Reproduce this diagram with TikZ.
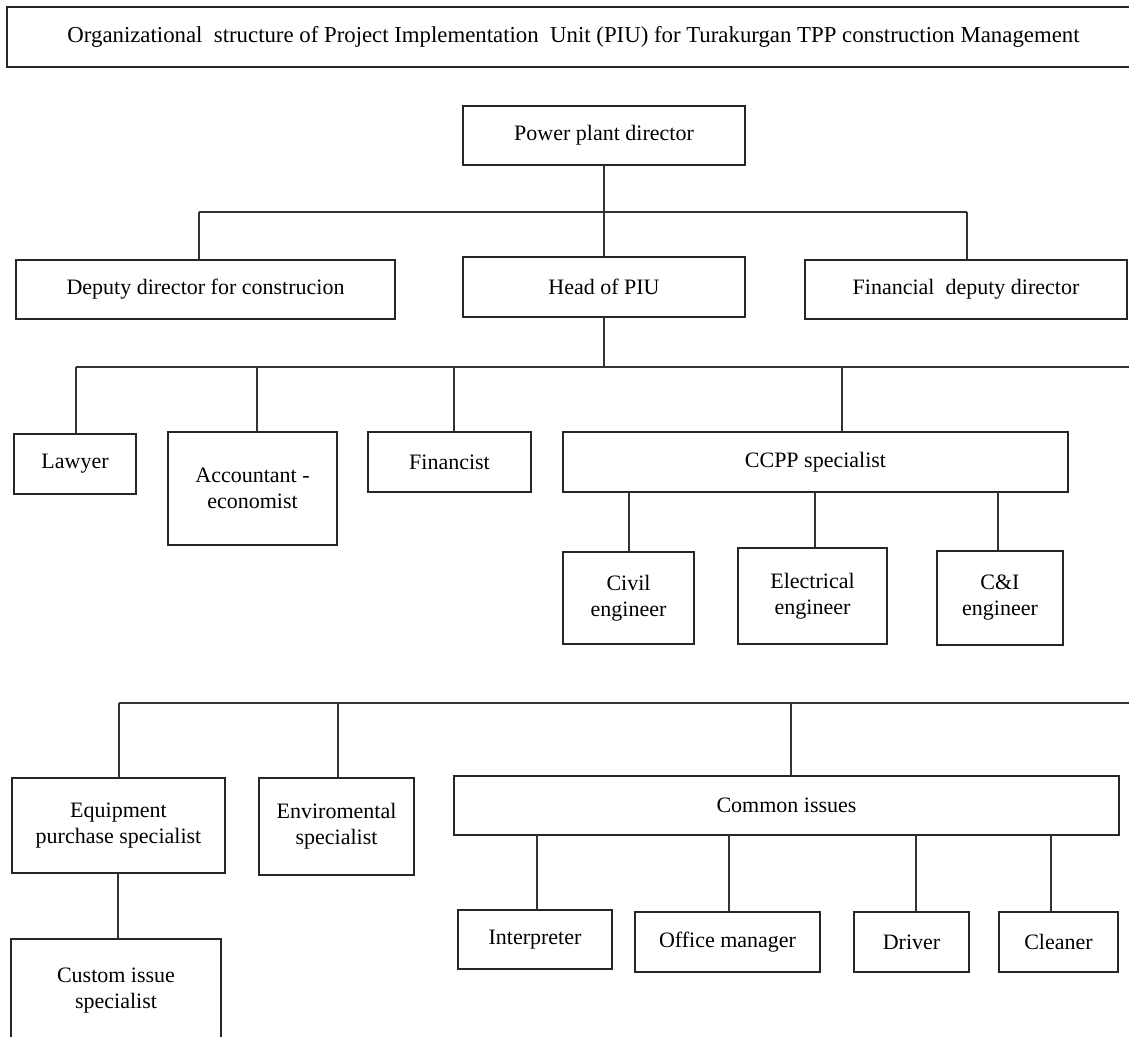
\documentclass[tikz,border=0pt]{standalone}
\usepackage{fontspec}
\setmainfont{Liberation Serif}
\begin{document}
\begin{tikzpicture}[x=1pt,y=-1pt,
  line width=1.2pt,
  every node/.style={font=\fontsize{22}{26}\selectfont},
  box/.style={draw=black!85,line width=1.3pt,inner sep=0pt,align=center,minimum width=#1},
  box/.default=100pt,
  link/.style={draw=black!80,line width=1.2pt}]
\useasboundingbox (0,0) rectangle (1129,1036);
\clip (0,0) rectangle (1129,1036);
\fill[white] (0,0) rectangle (1129,1036);

% title
\node[box=1133pt,minimum height=60pt,line width=1.6pt,font=\fontsize{22.8}{26}\selectfont] (title) at (573.5,37)
  {Organizational\ \ structure of Project Implementation\ \ Unit (PIU) for Turakurgan TPP construction Management};

% level 1
\node[box=282pt,minimum height=59pt] (ppd) at (604,135.5) {Power plant director};
\node[box=282pt,minimum height=60pt] (head) at (604,287) {Head of PIU};
\node[box=379pt,minimum height=59pt] (dep) at (205.5,289.5) {Deputy director for construcion};
\node[box=322pt,minimum height=59pt] (fin) at (966,289.5) {Financial\ \ deputy director};

\coordinate (b1l) at (199,212);
\coordinate (b1r) at (967,212);
\draw[link] (ppd.south) -- (head.north);
\draw[link] (b1l) -- (b1r);
\draw[link] (b1l) -- (b1l |- dep.north);
\draw[link] (b1r) -- (b1r |- fin.north);

% level 2
\node[box=122pt,minimum height=60pt] (law) at (75,464) {Lawyer};
\node[box=169pt,minimum height=113pt] (acc) at (252.5,488.5) {Accountant -\\economist};
\node[box=163pt,minimum height=60pt] (finc) at (449.5,462) {Financist};
\node[box=505pt,minimum height=60pt] (ccpp) at (815.5,462) {CCPP specialist};

\coordinate (b2l) at (76,367);
\coordinate (b2r) at (1135,367);
\coordinate (dacc) at (257,367);
\coordinate (dfinc) at (454,367);
\coordinate (dccpp) at (842,367);
\draw[link] (head.south) -- (head.south |- b2l);
\draw[link] (b2l) -- (b2r);
\draw[link] (b2l) -- (b2l |- law.north);
\draw[link] (dacc) -- (dacc |- acc.north);
\draw[link] (dfinc) -- (dfinc |- finc.north);
\draw[link] (dccpp) -- (dccpp |- ccpp.north);

% engineers
\node[box=131pt,minimum height=92pt] (civil) at (628.5,598) {Civil\\engineer};
\node[box=149pt,minimum height=96pt] (elec) at (812.5,596) {Electrical\\engineer};
\node[box=126pt,minimum height=94pt] (ci) at (1000,598) {C\&I\\engineer};

\coordinate (ucivil) at (629,492);
\coordinate (uelec) at (815,492);
\coordinate (uci) at (998,492);
\draw[link] (ucivil) -- (ucivil |- civil.north);
\draw[link] (uelec) -- (uelec |- elec.north);
\draw[link] (uci) -- (uci |- ci.north);

% level 3
\node[box=213pt,minimum height=95pt] (equip) at (118.5,825.5) {Equipment\\purchase specialist};
\node[box=155pt,minimum height=97pt] (env) at (336.5,826.5) {Enviromental\\specialist};
\node[box=665pt,minimum height=59pt] (common) at (786.5,805.5) {Common issues};
\node[box=210pt,minimum height=103pt] (custom) at (116,990.5) {Custom issue\\specialist};

\coordinate (b3l) at (119,703);
\coordinate (b3r) at (1135,703);
\coordinate (denv) at (338,703);
\coordinate (dcom) at (791,703);
\draw[link] (b3l) -- (b3r);
\draw[link] (b3l) -- (b3l |- equip.north);
\draw[link] (denv) -- (denv |- env.north);
\draw[link] (dcom) -- (dcom |- common.north);
\coordinate (ucust) at (118,873);
\draw[link] (ucust) -- (ucust |- custom.north);

% common issues children
\node[box=154pt,minimum height=59pt] (interp) at (535,939.5) {Interpreter};
\node[box=185pt,minimum height=60pt] (office) at (727.5,942) {Office manager};
\node[box=115pt,minimum height=60pt] (driver) at (911.5,942) {Driver};
\node[box=119pt,minimum height=60pt] (clean) at (1058.5,942) {Cleaner};

\coordinate (uint) at (537,835);
\coordinate (uoff) at (729,835);
\coordinate (udrv) at (916,835);
\coordinate (ucln) at (1051,835);
\draw[link] (uint) -- (uint |- interp.north);
\draw[link] (uoff) -- (uoff |- office.north);
\draw[link] (udrv) -- (udrv |- driver.north);
\draw[link] (ucln) -- (ucln |- clean.north);
\end{tikzpicture}
\end{document}
